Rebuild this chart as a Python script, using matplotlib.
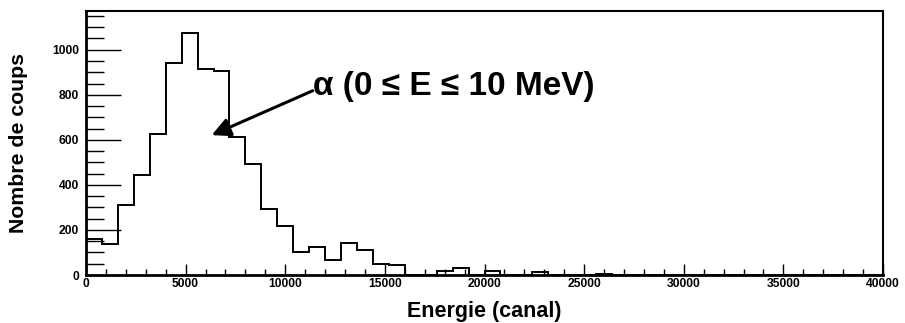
import numpy as np
import matplotlib
matplotlib.use("Agg")
import matplotlib.pyplot as plt
from matplotlib.ticker import MultipleLocator

plt.rcParams['font.family'] = ['Liberation Sans', 'DejaVu Sans']

# histogramme : 50 canaux de 800
bin_edges = np.arange(0, 40001, 800)
counts = [158, 136, 309, 442, 626, 941, 1075, 914, 905, 611,
          494, 294, 219, 101, 126, 65, 141, 112, 50, 46,
          2, 2, 19, 30, 0, 17, 0, 0, 14, 0,
          0, 0, 5, 0, 0, 0, 0, 0, 0, 0,
          0, 0, 0, 0, 0, 0, 0, 0, 0, 0]

label_text = "α (0 ≤ E ≤ 10 MeV)"

fig = plt.figure(figsize=(9.05, 3.23), dpi=100)
ax = fig.add_axes([86 / 905, 1 - 275 / 323, (883 - 86) / 905, (275 - 11) / 323])

ax.stairs(counts, bin_edges, color="black", linewidth=1.4)

ax.set_xlim(0, 40000)
ax.set_ylim(0, 1172)

ax.xaxis.set_major_locator(MultipleLocator(5000))
ax.xaxis.set_minor_locator(MultipleLocator(1000))
ax.yaxis.set_major_locator(MultipleLocator(200))
ax.yaxis.set_minor_locator(MultipleLocator(50))

ax.tick_params(axis="x", which="major", direction="in", length=8, width=1, pad=2)
ax.tick_params(axis="x", which="minor", direction="in", length=4, width=1)
ax.tick_params(axis="y", which="major", direction="in", length=25, width=1, pad=5)
ax.tick_params(axis="y", which="minor", direction="in", length=13, width=1)
for lab in ax.get_xticklabels() + ax.get_yticklabels():
    lab.set_fontweight("bold")
    lab.set_fontsize(8.7)

for side in ["left", "bottom"]:
    ax.spines[side].set_linewidth(2)
for side in ["top", "right"]:
    ax.spines[side].set_linewidth(1.5)

ax.set_xlabel("Energie (canal)", fontsize=15.5, fontweight="bold", labelpad=8)
ax.set_ylabel("Nombre de coups", fontsize=15.3, fontweight="bold", labelpad=17)

# flèche + texte
ax.annotate("", xy=(6309, 621), xytext=(11378, 818),
            arrowprops=dict(arrowstyle="-|>", color="black", lw=2.2,
                            mutation_scale=28, shrinkA=0, shrinkB=0))
ax.text(11393, 799, label_text, fontsize=24, fontweight="bold",
        ha="left", va="baseline")

fig.savefig("out.png", dpi=100)
